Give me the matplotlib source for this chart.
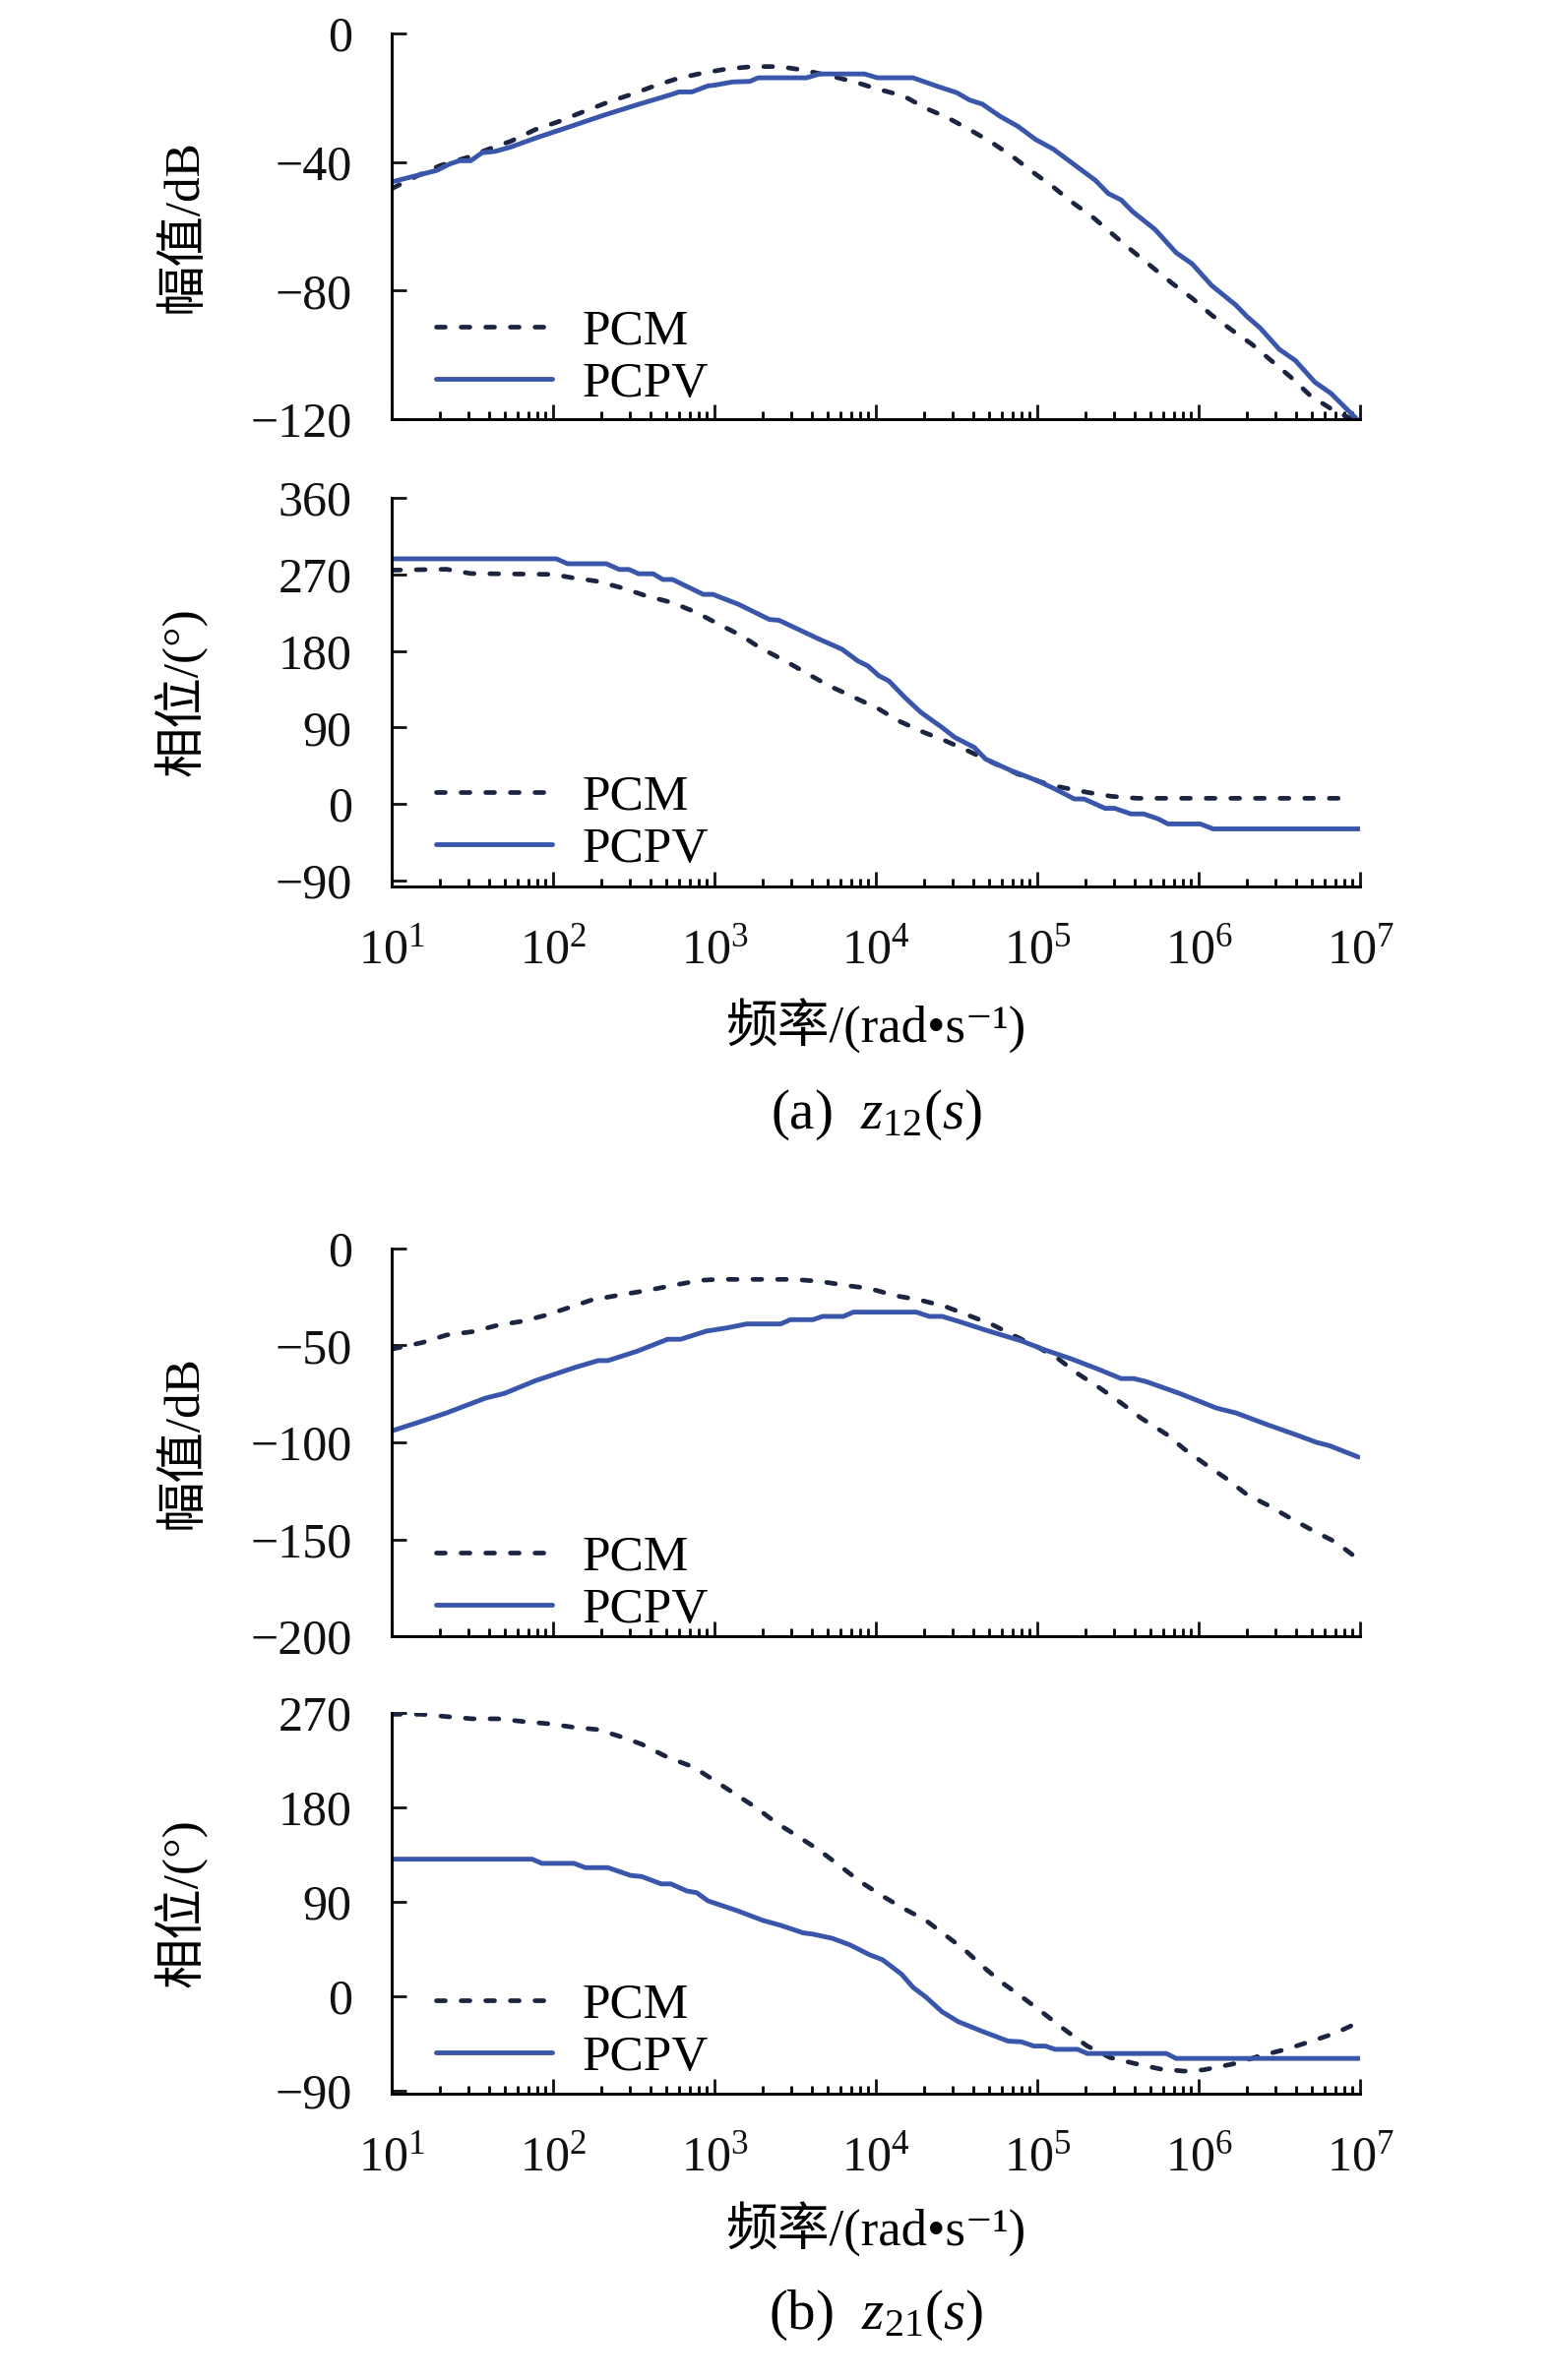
import numpy as np
import matplotlib
matplotlib.use("Agg")
import matplotlib.pyplot as plt
from matplotlib.ticker import LogLocator, FixedLocator, NullFormatter

plt.rcParams['font.family'] = ['Liberation Serif', 'Noto Sans CJK SC', 'DejaVu Serif']
plt.rcParams['mathtext.fontset'] = 'custom'
plt.rcParams['mathtext.rm'] = 'Liberation Serif'
plt.rcParams['mathtext.it'] = 'Liberation Serif:italic'
plt.rcParams['axes.unicode_minus'] = True

# ---- data: log10(frequency) and value ----
# (a) z12(s), magnitude in dB
a_mag_pcm_lf = [1.00, 1.15, 1.30, 1.48, 1.60, 1.74, 1.89, 2.03, 2.19, 2.35, 2.50, 2.64,
                2.78, 2.92, 3.08, 3.24, 3.40, 3.54, 3.71, 3.87, 4.01, 4.17, 4.31, 4.44,
                4.58, 4.72, 4.85, 4.96, 5.10, 5.21, 5.35, 5.47, 5.59, 5.70, 5.84, 5.96,
                6.08, 6.20, 6.33, 6.45, 6.57, 6.69, 6.83, 6.95]
a_mag_pcm = [-48.3, -44.5, -41.1, -38.4, -36.0, -33.5, -29.9, -27.5, -24.3, -21.2, -18.7, -16.1,
             -13.9, -12.4, -11.0, -10.3, -10.3, -11.3, -13.1, -15.1, -17.3, -19.4, -23.3, -26.1,
             -29.9, -34.0, -38.4, -42.7, -47.8, -52.3, -57.4, -62.6, -67.7, -72.2, -77.9, -82.4,
             -87.6, -92.1, -96.7, -101.8, -106.9, -112.6, -117.1, -120.0]
a_mag_pcpv_lf = [1.00, 1.28, 1.36, 1.42, 1.49, 1.56, 1.64, 1.74, 1.90, 2.11, 2.31, 2.52,
                 2.72, 2.78, 2.86, 2.96, 3.00, 3.11, 3.22, 3.27, 3.57, 3.65, 3.93, 4.01,
                 4.23, 4.39, 4.50, 4.58, 4.66, 4.77, 4.88, 4.99, 5.10, 5.21, 5.36, 5.44,
                 5.52, 5.59, 5.73, 5.86, 5.96, 6.08, 6.23, 6.30, 6.38, 6.50, 6.60, 6.72,
                 6.82, 6.98]
a_mag_pcpv = [-46.2, -42.6, -40.6, -39.6, -39.6, -37.1, -36.7, -35.3, -32.4, -28.9, -25.5, -22.2,
              -19.2, -18.2, -18.2, -16.3, -16.1, -15.1, -14.9, -13.8, -13.8, -12.6, -12.6, -13.8,
              -13.8, -16.6, -18.4, -20.7, -22.0, -25.8, -28.9, -33.0, -36.0, -40.1, -45.7, -49.8,
              -51.8, -55.4, -61.0, -68.2, -71.7, -78.4, -84.5, -88.1, -91.6, -98.3, -101.8, -108.5,
              -112.0, -120.0]

# (a) z12(s), phase in degrees
a_ph_pcm_lf = [1.00, 1.34, 1.49, 2.00, 2.12, 2.27, 2.43, 2.58, 2.74, 2.89, 3.01, 3.17,
               3.28, 3.44, 3.60, 3.71, 3.87, 4.02, 4.14, 4.30, 4.41, 4.57, 4.72, 4.88,
               5.03, 5.15, 5.31, 5.46, 5.62, 6.90]
a_ph_pcm = [275.0, 276.0, 271.0, 270.0, 266.0, 262.0, 254.0, 244.5, 236.7, 225.0, 213.0, 197.6,
            184.0, 168.0, 150.6, 139.0, 125.0, 111.5, 97.8, 84.0, 76.0, 62.6, 49.0, 35.2,
            25.4, 19.6, 13.7, 9.0, 6.7, 6.7]
a_ph_pcpv_lf = [1.00, 2.02, 2.09, 2.33, 2.41, 2.47, 2.53, 2.62, 2.68, 2.74, 2.93, 2.99,
                3.15, 3.34, 3.40, 3.65, 3.79, 3.89, 3.95, 4.02, 4.08, 4.18, 4.28, 4.41,
                4.49, 4.61, 4.68, 4.84, 5.00, 5.11, 5.23, 5.29, 5.42, 5.48, 5.58, 5.66,
                5.75, 5.81, 6.01, 6.09, 7.00]
a_ph_pcpv = [288.3, 288.3, 282.5, 282.5, 275.8, 275.8, 270.7, 270.7, 264.0, 264.0, 246.5, 246.5,
             234.7, 217.0, 216.0, 193.7, 182.0, 168.0, 162.4, 150.6, 144.8, 125.2, 107.6, 90.0,
             78.2, 66.5, 52.8, 39.1, 27.4, 17.6, 5.9, 5.9, -5.1, -5.1, -11.7, -11.7,
             -17.6, -23.5, -23.5, -29.3, -29.3]

# (b) z21(s), magnitude in dB
b_mag_pcm_lf = [1.00, 1.19, 1.34, 1.50, 1.66, 1.81, 1.95, 2.09, 2.24, 2.44, 2.59, 2.75,
                2.91, 3.02, 3.49, 3.65, 3.84, 3.96, 4.12, 4.27, 4.43, 4.59, 4.72, 4.86,
                5.00, 5.13, 5.25, 5.39, 5.52, 5.64, 5.80, 5.91, 6.05, 6.17, 6.30, 6.44,
                6.58, 6.71, 6.85, 6.97]
b_mag_pcm = [-51.9, -48.5, -44.6, -42.9, -39.5, -37.5, -34.5, -30.7, -26.5, -23.6, -21.5, -18.9,
             -16.4, -15.9, -15.9, -16.9, -19.3, -20.6, -24.3, -26.5, -29.9, -35.0, -39.2, -45.1,
             -50.7, -56.9, -64.5, -72.1, -79.7, -87.3, -95.8, -103.4, -111.8, -118.6, -127.0, -132.9,
             -139.7, -145.6, -151.5, -159.1]
b_mag_pcpv_lf = [1.00, 1.19, 1.34, 1.58, 1.70, 1.89, 2.13, 2.28, 2.34, 2.52, 2.71, 2.79,
                 2.95, 3.08, 3.20, 3.41, 3.47, 3.61, 3.67, 3.80, 3.86, 4.25, 4.33, 4.41,
                 4.51, 4.70, 4.90, 5.05, 5.21, 5.37, 5.52, 5.60, 5.68, 5.88, 6.11, 6.23,
                 6.42, 6.62, 6.73, 6.81, 6.99]
b_mag_pcpv = [-94.1, -89.0, -84.8, -77.2, -74.7, -68.2, -61.5, -57.8, -57.8, -53.0, -46.8, -46.8,
              -42.6, -40.9, -38.9, -38.9, -36.7, -36.7, -35.0, -35.0, -32.8, -32.8, -35.0, -35.0,
              -37.5, -42.6, -47.6, -52.4, -56.9, -62.0, -67.1, -67.1, -68.8, -74.7, -82.3, -84.8,
              -90.7, -96.6, -100.0, -101.7, -107.6]

# (b) z21(s), phase in degrees
b_ph_pcm_lf = [1.00, 1.19, 1.34, 1.50, 1.66, 1.81, 1.97, 2.13, 2.28, 2.44, 2.55, 2.71,
               2.87, 2.98, 3.12, 3.26, 3.38, 3.51, 3.65, 3.77, 3.90, 4.04, 4.16, 4.31,
               4.43, 4.55, 4.66, 4.78, 4.92, 5.04, 5.17, 5.31, 5.45, 5.60, 5.76, 5.91,
               6.03, 6.23, 6.38, 6.54, 6.70, 6.85, 7.00]
b_ph_pcm = [268.7, 268.7, 266.5, 264.4, 264.4, 261.9, 259.7, 256.3, 254.1, 246.3, 240.1, 227.7,
            218.4, 207.5, 193.5, 179.5, 165.5, 153.0, 139.0, 125.0, 109.5, 95.5, 84.6, 72.2,
            58.2, 44.2, 28.6, 13.1, -2.5, -16.5, -32.0, -47.6, -58.5, -64.1, -69.4, -71.5,
            -70.3, -64.1, -56.9, -50.7, -42.9, -35.1, -24.3]
b_ph_pcpv_lf = [1.00, 1.87, 1.93, 2.13, 2.20, 2.34, 2.48, 2.55, 2.67, 2.73, 2.83, 2.89,
                2.96, 3.14, 3.30, 3.41, 3.55, 3.61, 3.73, 3.84, 3.96, 4.04, 4.16, 4.23,
                4.31, 4.41, 4.51, 4.66, 4.82, 4.90, 4.98, 5.05, 5.11, 5.25, 5.31, 5.80,
                5.86, 7.00]
b_ph_pcpv = [130.6, 130.6, 126.6, 126.6, 122.5, 122.5, 115.1, 114.0, 107.0, 107.0, 100.2, 98.6,
             90.8, 81.5, 72.2, 67.5, 60.3, 59.1, 55.1, 48.8, 39.5, 34.8, 20.8, 8.4,
             -0.9, -14.9, -24.3, -33.6, -42.9, -43.5, -47.6, -47.6, -50.7, -50.7, -54.7, -54.7,
             -59.4, -59.4]

labels = ['PCM', 'PCPV']
mag_ticks_a = [0, -40, -80, -120]
ph_ticks_a = [360, 270, 180, 90, 0, -90]
mag_ticks_b = [0, -50, -100, -150, -200]
ph_ticks_b = [270, 180, 90, 0, -90]

c_pcm = '#1c2540'
c_pcpv = '#3a56aa'
W, H = 1575, 2419


def make_axes(fig, top, bottom):
    left, right = 398, 1382
    return fig.add_axes([left / W, 1 - bottom / H, (right - left) / W, (bottom - top) / H])


def draw_panel(ax, lf1, y1, lf2, y2, ylim, yticks, legend_y, show_xlabels):
    ax.plot(10 ** np.array(lf1), y1, color=c_pcm, lw=3.4, linestyle=(0, (1.9, 3.4)),
            dash_capstyle='round', label=labels[0])
    ax.plot(10 ** np.array(lf2), y2, color=c_pcpv, lw=3.5, solid_capstyle='round',
            label=labels[1])
    ax.set_xscale('log')
    ax.set_xlim(10, 1e7)
    ax.set_ylim(*ylim)
    ax.yaxis.set_major_locator(FixedLocator(yticks))
    ax.xaxis.set_major_locator(LogLocator(base=10, numticks=20))
    ax.xaxis.set_minor_locator(LogLocator(base=10, subs=np.arange(2, 10), numticks=20))
    ax.xaxis.set_minor_formatter(NullFormatter())
    for s in ['top', 'right']:
        ax.spines[s].set_visible(False)
    for s in ['left', 'bottom']:
        ax.spines[s].set_linewidth(2.1)
    ax.tick_params(which='major', direction='in', length=10.5, width=2.0, labelsize=36,
                   pad=29, colors='#111111')
    ax.tick_params(axis='x', which='minor', direction='in', length=6.0, width=2.0)
    ax.tick_params(axis='x', labelbottom=show_xlabels, pad=30)
    ax.legend(loc='center left', bbox_to_anchor=(0.0457, legend_y), frameon=False,
              fontsize=37, handlelength=2.3, handletextpad=0.6, labelspacing=0.12,
              borderpad=0, borderaxespad=0)


fig = plt.figure(figsize=(W / 100, H / 100), dpi=100)

ax1 = make_axes(fig, 34, 426)
draw_panel(ax1, a_mag_pcm_lf, a_mag_pcm, a_mag_pcpv_lf, a_mag_pcpv,
           (-120, 0), mag_ticks_a, 0.159, False)
ax1.set_ylabel('幅值/dB', fontsize=37)

ax2 = make_axes(fig, 506, 901)
draw_panel(ax2, a_ph_pcm_lf, a_ph_pcm, a_ph_pcpv_lf, a_ph_pcpv,
           (-97, 360), ph_ticks_a, 0.162, True)
ax2.set_ylabel('相位/(°)', fontsize=37)

ax3 = make_axes(fig, 1269, 1663)
draw_panel(ax3, b_mag_pcm_lf, b_mag_pcm, b_mag_pcpv_lf, b_mag_pcpv,
           (-200, 0), mag_ticks_b, 0.135, False)
ax3.set_ylabel('幅值/dB', fontsize=37)

ax4 = make_axes(fig, 1741, 2128)
draw_panel(ax4, b_ph_pcm_lf, b_ph_pcm, b_ph_pcpv_lf, b_ph_pcpv,
           (-93, 270), ph_ticks_b, 0.163, True)
ax4.set_ylabel('相位/(°)', fontsize=37)

for ax in [ax1, ax2, ax3, ax4]:
    ax.yaxis.set_label_coords(-0.19, 0.5)

xc = 890 / W
fig.text(xc, 1 - 1043 / H, '频率/(rad•s⁻¹)', fontsize=38, ha='center', va='center')
fig.text(xc, 1 - 1133 / H, r'(a)  $z_{12}(s)$', fontsize=41, ha='center', va='center')
fig.text(xc, 1 - 2266 / H, '频率/(rad•s⁻¹)', fontsize=38, ha='center', va='center')
fig.text(xc, 1 - 2353 / H, r'(b)  $z_{21}(s)$', fontsize=41, ha='center', va='center')

fig.savefig('out.png', dpi=100)
